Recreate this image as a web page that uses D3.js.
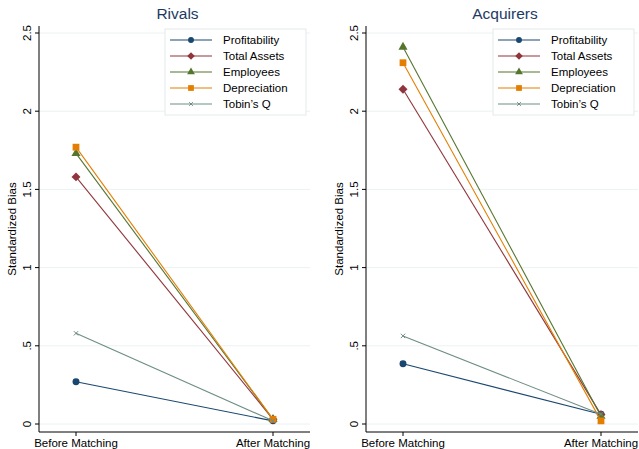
<!DOCTYPE html>
<html>
<head>
<meta charset="utf-8">
<script src="https://cdn.jsdelivr.net/npm/d3@7"></script>
<style>
  body { margin: 0; background: #fff; }
  text { font-family: "Liberation Sans", Arial, sans-serif; }
</style>
</head>
<body>
<script>
var stages = ["Before Matching", "After Matching"];
var seriesNames = ["Profitability", "Total Assets", "Employees", "Depreciation", "Tobin\u2019s Q"];
var colors = ["#1a476f", "#90353b", "#55752f", "#e37e00", "#6e8e84"];
var yTicks = [0, 0.5, 1, 1.5, 2, 2.5];
var yTickLabels = ["0", ".5", "1", "1.5", "2", "2.5"];

// before / after values per series
var rivalsBefore = [0.27, 1.58, 1.73, 1.77, 0.58];
var rivalsAfter = [0.02, 0.03, 0.03, 0.03, 0.02];
var acquirersBefore = [0.385, 2.14, 2.41, 2.31, 0.563];
var acquirersAfter = [0.062, 0.06, 0.05, 0.02, 0.062];

var W = 639, H = 449;
var svg = d3.select("body").append("svg")
    .attr("width", W)
    .attr("height", H);

// stata-like markers: circle, diamond (rotated square), triangle, square, small x
function marker(sel, i, scale) {
  var s = scale || 1;
  if (i === 1) {
    sel.append("path")
        .attr("d", d3.symbol().type(d3.symbolSquare).size(40 * s * s))
        .attr("transform", "rotate(45)")
        .attr("fill", colors[i]);
  } else if (i === 4) {
    sel.append("path")
        .attr("d", d3.symbol().type(d3.symbolX).size(14 * s * s))
        .attr("fill", colors[i]).attr("stroke", colors[i]).attr("stroke-width", 1);
  } else {
    var type = [d3.symbolCircle, null, d3.symbolTriangle, d3.symbolSquare][i];
    var sz = [38, 0, 36, 46][i];
    sel.append("path")
        .attr("d", d3.symbol().type(type).size(sz * s * s))
        .attr("fill", colors[i]);
  }
}

function panel(title, before, after, left, right, catX) {
  var top = 26, bottom = 432;
  var g = svg.append("g");

  var y = d3.scaleLinear().domain([0, 2.5]).range([424, 33]);
  var x = d3.scalePoint().domain(stages).range(catX);

  // gridlines
  g.selectAll("line.grid").data(yTicks).enter().append("line")
      .attr("class", "grid")
      .attr("x1", left).attr("x2", right)
      .attr("y1", function(d) { return y(d); })
      .attr("y2", function(d) { return y(d); })
      .attr("stroke", "#eaf2f3")
      .attr("stroke-width", 1);

  // axes lines
  g.append("line").attr("x1", left).attr("x2", left).attr("y1", top).attr("y2", bottom)
      .attr("stroke", "#000").attr("stroke-width", 1);
  g.append("line").attr("x1", left).attr("x2", right).attr("y1", bottom).attr("y2", bottom)
      .attr("stroke", "#000").attr("stroke-width", 1);

  // y ticks
  g.selectAll("line.ytick").data(yTicks).enter().append("line")
      .attr("x1", left - 4).attr("x2", left)
      .attr("y1", function(d) { return y(d); })
      .attr("y2", function(d) { return y(d); })
      .attr("stroke", "#000");
  g.selectAll("text.ylab").data(yTicks).enter().append("text")
      .attr("transform", function(d) { return "translate(" + (left - 8) + "," + y(d) + ") rotate(-90)"; })
      .attr("text-anchor", "middle")
      .attr("font-size", 11.5)
      .text(function(d, i) { return yTickLabels[i]; });

  g.append("text")
      .attr("transform", "translate(" + (left - 23) + "," + ((top + bottom) / 2) + ") rotate(-90)")
      .attr("text-anchor", "middle")
      .attr("font-size", 11.5)
      .text("Standardized Bias");

  // x ticks
  g.selectAll("line.xtick").data(stages).enter().append("line")
      .attr("x1", function(d) { return x(d); })
      .attr("x2", function(d) { return x(d); })
      .attr("y1", bottom).attr("y2", bottom + 4)
      .attr("stroke", "#000");
  g.selectAll("text.xlab").data(stages).enter().append("text")
      .attr("x", function(d) { return x(d); })
      .attr("y", bottom + 15)
      .attr("text-anchor", "middle")
      .attr("font-size", 11.5)
      .text(function(d) { return d; });

  // title
  g.append("text")
      .attr("x", (left + right) / 2 + 3)
      .attr("y", 19)
      .attr("text-anchor", "middle")
      .attr("font-size", 15.5)
      .attr("fill", "#1e3a64")
      .text(title);

  // series
  seriesNames.forEach(function(name, i) {
    var pts = [[stages[0], before[i]], [stages[1], after[i]]];
    g.append("path")
        .attr("d", d3.line().x(function(d) { return x(d[0]); }).y(function(d) { return y(d[1]); })(pts))
        .attr("fill", "none")
        .attr("stroke", colors[i])
        .attr("stroke-width", 1.1);
    pts.forEach(function(p) {
      var m = g.append("g")
          .attr("transform", "translate(" + x(p[0]) + "," + y(p[1]) + ")");
      marker(m, i, 1);
    });
  });

  // legend
  var lx = right - 145, ly = 29;
  var leg = g.append("g");
  leg.append("rect")
      .attr("x", lx).attr("y", ly).attr("width", 141).attr("height", 86)
      .attr("fill", "#fff").attr("stroke", "#e2eaec");
  seriesNames.forEach(function(name, i) {
    var ry = ly + 11 + i * 16;
    leg.append("line")
        .attr("x1", lx + 5).attr("x2", lx + 47)
        .attr("y1", ry).attr("y2", ry)
        .attr("stroke", colors[i]).attr("stroke-width", 1.1);
    var m = leg.append("g").attr("transform", "translate(" + (lx + 26) + "," + ry + ")");
    marker(m, i, 0.85);
    leg.append("text")
        .attr("x", lx + 58).attr("y", ry + 4)
        .attr("font-size", 11.5)
        .text(name);
  });
}

panel("Rivals", rivalsBefore, rivalsAfter, 39, 310, [76, 273]);
panel("Acquirers", acquirersBefore, acquirersAfter, 366, 638, [403, 601]);
</script>
</body>
</html>
